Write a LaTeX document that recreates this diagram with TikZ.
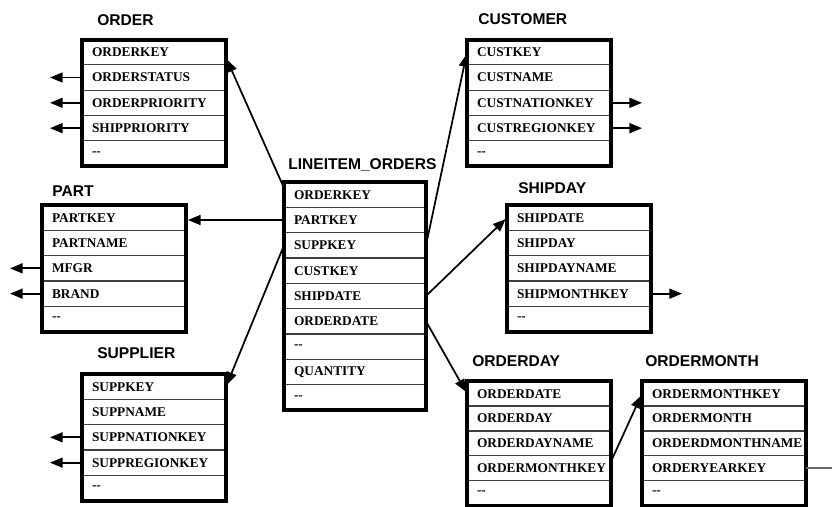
\documentclass[tikz,border=0pt]{standalone}
\usepackage{fontspec}
\setmainfont{Liberation Serif}
\newfontfamily\headfont{Liberation Sans}
\usetikzlibrary{arrows.meta}

\begin{document}
\begin{tikzpicture}[x=0.75pt,y=-0.75pt,
  field/.style={draw=black!75,line width=0.8pt,anchor=north west,outer sep=0pt,
    inner sep=0pt,minimum height=19pt,text width=#1,align=left,
    font=\fontsize{10}{12}\selectfont\bfseries},
  frame/.style={line width=3pt},
  title/.style={anchor=base west,inner sep=0pt,
    font=\headfont\fontsize{11.7}{14}\selectfont\bfseries},
  link/.style={line width=1.3pt,shorten >=1.5pt,-{Triangle[length=9.5pt,width=7.5pt]}}]
\useasboundingbox (0,0) rectangle (832,507);

% fact table
\node[title] (line) at (288,169) {LINEITEM\_ORDERS};
\foreach \f [count=\i] in {ORDERKEY,PARTKEY,SUPPKEY,CUSTKEY,SHIPDATE,ORDERDATE,-{}-,QUANTITY,-{}-}
  \node[field=106.5pt] (line-\i) at (284,{182+(\i-1)*25.33}) {\hspace*{7.5pt}\f};
\draw[frame] (line-1.north west) rectangle (line-9.south east);

% dimensions, left side
\node[title] (order) at (97,25.5) {ORDER};
\foreach \f [count=\i] in {ORDERKEY,ORDERSTATUS,ORDERPRIORITY,SHIPPRIORITY,-{}-}
  \node[field=108pt] (order-\i) at (82,{39.5+(\i-1)*25.33}) {\hspace*{7.5pt}\f};
\draw[frame] (order-1.north west) rectangle (order-5.south east);

\node[title] (part) at (52,196) {PART};
\foreach \f [count=\i] in {PARTKEY,PARTNAME,MFGR,BRAND,-{}-}
  \node[field=108pt] (part-\i) at (42,{205+(\i-1)*25.33}) {\hspace*{7.5pt}\f};
\draw[frame] (part-1.north west) rectangle (part-5.south east);

\node[title] (supp) at (97,358) {SUPPLIER};
\foreach \f [count=\i] in {SUPPKEY,SUPPNAME,SUPPNATIONKEY,SUPPREGIONKEY,-{}-}
  \node[field=108pt] (supp-\i) at (82,{374+(\i-1)*25.33}) {\hspace*{7.5pt}\f};
\draw[frame] (supp-1.north west) rectangle (supp-5.south east);

% dimensions, right side
\node[title] (cust) at (478,24.5) {CUSTOMER};
\foreach \f [count=\i] in {CUSTKEY,CUSTNAME,CUSTNATIONKEY,CUSTREGIONKEY,-{}-}
  \node[field=108pt] (cust-\i) at (467,{39.5+(\i-1)*25.33}) {\hspace*{7.5pt}\f};
\draw[frame] (cust-1.north west) rectangle (cust-5.south east);

\node[title] (ship) at (518,193) {SHIPDAY};
\foreach \f [count=\i] in {SHIPDATE,SHIPDAY,SHIPDAYNAME,SHIPMONTHKEY,-{}-}
  \node[field=108pt] (ship-\i) at (507,{205+(\i-1)*25.33}) {\hspace*{7.5pt}\f};
\draw[frame] (ship-1.north west) rectangle (ship-5.south east);

\node[title] (oday) at (472,366.5) {ORDERDAY};
\foreach \f [count=\i] in {ORDERDATE,ORDERDAY,ORDERDAYNAME,ORDERMONTHKEY,-{}-}
  \node[field=108pt] (oday-\i) at (467,{381+(\i-1)*24.8}) {\hspace*{7.5pt}\f};
\draw[frame] (oday-1.north west) rectangle (oday-5.south east);

\node[title] (omon) at (645,366.5) {ORDERMONTH};
\foreach \f [count=\i] in {ORDERMONTHKEY,ORDERMONTH,ORDERDMONTHNAME,ORDERYEARKEY,-{}-}
  \node[field=123pt] (omon-\i) at (642,{381+(\i-1)*24.8}) {\hspace*{7.5pt}\f};
\draw[frame] (omon-1.north west) rectangle (omon-5.south east);

% keys from the fact table
\draw[link] ([yshift=5pt]line-1.west) -- ([yshift=-4pt]order-1.east);
\draw[link] (line-2.west) -- (line-2.west -| part-1.east);
\draw[link] (line-3.west) -- (supp-1.east);
\draw[link] (line-3.east) -- (cust-1.west);
\draw[link] (line-5.east) -- (ship-1.west);
\draw[link] (line-6.east) -- (oday-1.west);
\draw[link] ([yshift=5pt]oday-4.east) -- (omon-1.west);

% outgoing keys
\foreach \i in {2,3,4} \draw[link] (order-\i.west) -- ++(-34,0);
\foreach \i in {3,4} {
  \draw[link] (part-\i.west) -- ++(-34,0);
  \draw[link] (supp-\i.west) -- ++(-34,0);
  \draw[link] (cust-\i.east) -- ++(33,0);
}
\draw[link] (ship-4.east) -- ++(33,0);
\draw[black!60,line width=1pt] (omon-4.east) -- ++(28,0);
\end{tikzpicture}
\end{document}
